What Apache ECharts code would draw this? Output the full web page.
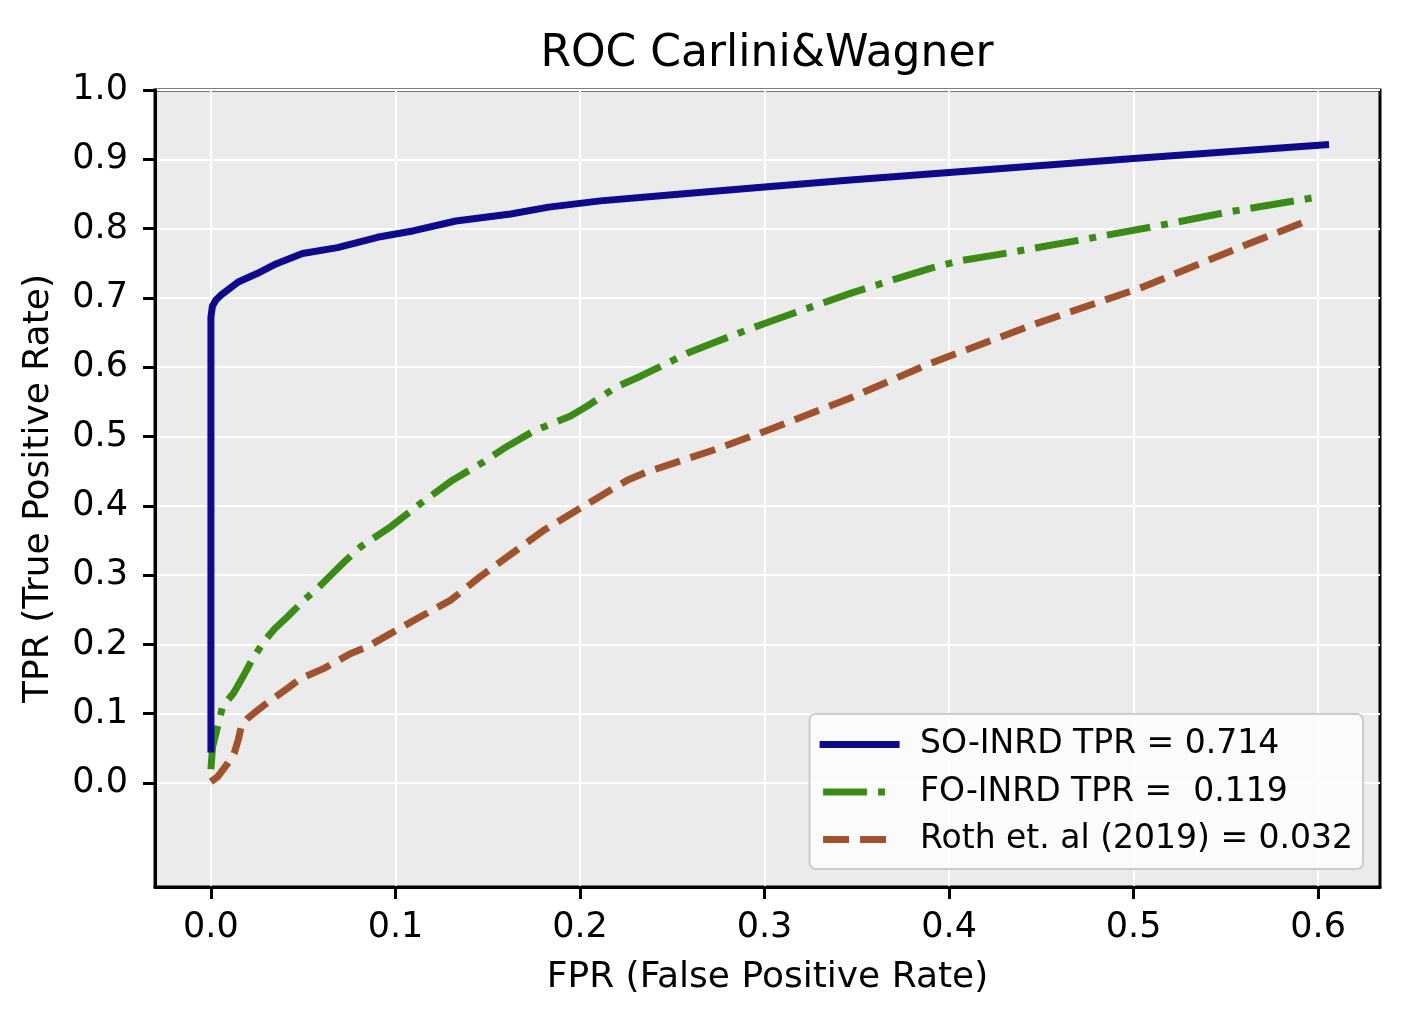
<!DOCTYPE html>
<html>
<head>
<meta charset="utf-8">
<script src="https://cdn.jsdelivr.net/npm/echarts@6/dist/echarts.min.js"></script>
<style>
  html, body { margin: 0; padding: 0; background: #ffffff; }
  #chart { width: 1425px; height: 1015px; }
</style>
</head>
<body>
<div id="chart"></div>
<script>
// ---- data ----
const seriesNames = ['SO-INRD TPR = 0.714', 'FO-INRD TPR =  0.119', 'Roth et. al (2019) = 0.032'];

const soFpr = [0, 0, 0.0008, 0.0027, 0.0054, 0.0148, 0.0253, 0.0352, 0.0496, 0.0686, 0.0902, 0.110, 0.1327, 0.1624, 0.183, 0.211, 0.25, 0.30, 0.3465, 0.40, 0.50, 0.604];
const soTpr = [0.049, 0.672, 0.688, 0.697, 0.704, 0.723, 0.7355, 0.749, 0.764, 0.7725, 0.7875, 0.797, 0.811, 0.821, 0.831, 0.840, 0.849, 0.860, 0.870, 0.881, 0.901, 0.921];

const foFpr = [0, 0.0009, 0.0036, 0.0063, 0.0123, 0.0172, 0.0217, 0.028, 0.0343, 0.0415, 0.0505, 0.0578, 0.065, 0.0722, 0.0812, 0.0975, 0.1137, 0.1309, 0.148, 0.1588, 0.175, 0.1949, 0.204, 0.220, 0.2328, 0.249, 0.258, 0.2707, 0.2906, 0.30, 0.32, 0.3465, 0.3664, 0.3898, 0.406, 0.4304, 0.471, 0.5107, 0.5522, 0.5985];
const foTpr = [0.02, 0.052, 0.081, 0.110, 0.130, 0.1525, 0.175, 0.2016, 0.222, 0.240, 0.264, 0.281, 0.300, 0.319, 0.341, 0.370, 0.4036, 0.437, 0.4637, 0.483, 0.508, 0.5296, 0.544, 0.572, 0.587, 0.608, 0.620, 0.6335, 0.654, 0.663, 0.682, 0.7066, 0.7234, 0.7427, 0.7537, 0.7643, 0.7835, 0.8028, 0.8244, 0.845];

const rothFpr = [0, 0.0036, 0.009, 0.0126, 0.0148, 0.0166, 0.0199, 0.0253, 0.0325, 0.0415, 0.0487, 0.0613, 0.0758, 0.0848, 0.0975, 0.112, 0.130, 0.146, 0.1805, 0.1985, 0.2166, 0.2256, 0.2364, 0.2725, 0.2996, 0.3465, 0.3898, 0.4476, 0.5053, 0.563, 0.594];
const rothTpr = [0.002, 0.009, 0.028, 0.043, 0.062, 0.0837, 0.0933, 0.105, 0.1198, 0.1366, 0.151, 0.1655, 0.187, 0.1967, 0.216, 0.2377, 0.264, 0.298, 0.365, 0.394, 0.4228, 0.437, 0.449, 0.4805, 0.507, 0.5556, 0.6056, 0.6633, 0.716, 0.7788, 0.811];

const xTicks = [0, 0.1, 0.2, 0.3, 0.4, 0.5, 0.6];
const yTicks = [0, 0.1, 0.2, 0.3, 0.4, 0.5, 0.6, 0.7, 0.8, 0.9, 1.0];

const titleText = 'ROC Carlini&Wagner';
const xName = 'FPR (False Positive Rate)';
const yName = 'TPR (True Positive Rate)';

// ---- build ----
const zip = (a, b) => a.map((v, i) => [v, b[i]]);
const FONT = 'DejaVu Sans';

const chart = echarts.init(document.getElementById('chart'), null, { renderer: 'canvas' });

const axisCommon = {
  type: 'value',
  nameLocation: 'middle',
  nameTextStyle: { fontFamily: FONT, fontSize: 36, color: '#000' },
  axisLine: { show: true, onZero: false, lineStyle: { color: '#000', width: 3 } },
  axisTick: { show: true, inside: false, length: 12, lineStyle: { color: '#000', width: 3 } },
  splitLine: { show: true, lineStyle: { color: '#ffffff', width: 2 } },
  axisLabel: { fontFamily: FONT, fontSize: 35, color: '#000', formatter: v => v.toFixed(1) }
};

chart.setOption({
  animation: false,
  backgroundColor: '#ffffff',
  title: {
    text: titleText,
    left: 767,
    textAlign: 'center',
    top: 33,
    padding: 0,
    textStyle: { fontFamily: FONT, fontSize: 44, fontWeight: 'normal', color: '#000' }
  },
  grid: {
    left: 155, right: 45, top: 90, bottom: 128,
    show: true,
    backgroundColor: '#EBEBEB',
    borderColor: '#000',
    borderWidth: 3
  },
  legend: {
    orient: 'vertical',
    right: 62,
    top: 714,
    data: seriesNames,
    itemWidth: 73,
    itemHeight: 20,
    itemGap: 14.5,
    padding: [14, 10, 13, 10],
    backgroundColor: 'rgba(255,255,255,0.8)',
    borderColor: '#CCCCCC',
    borderWidth: 2,
    borderRadius: 6,
    itemStyle: { opacity: 0 },
    lineStyle: { width: 7 },
    textStyle: { fontFamily: FONT, fontSize: 33, lineHeight: 30, color: '#000', padding: [0, 0, 0, 19] }
  },
  xAxis: Object.assign({}, axisCommon, {
    min: -0.0303,
    max: 0.6335,
    name: xName,
    nameGap: 73,
    axisTick: Object.assign({}, axisCommon.axisTick, { customValues: xTicks }),
    axisLabel: Object.assign({}, axisCommon.axisLabel, { customValues: xTicks, margin: 23 })
  }),
  yAxis: Object.assign({}, axisCommon, {
    min: -0.15,
    max: 1.0,
    name: yName,
    nameGap: 98,
    axisTick: Object.assign({}, axisCommon.axisTick, { customValues: yTicks }),
    axisLabel: Object.assign({}, axisCommon.axisLabel, { customValues: yTicks, margin: 27 })
  }),
  series: [
    {
      name: seriesNames[0], type: 'line', data: zip(soFpr, soTpr),
      symbol: 'none', showSymbol: false, z: 4,
      lineStyle: { color: '#0E0A8C', width: 7, type: 'solid', cap: 'square', join: 'round' },
      itemStyle: { color: '#0E0A8C' }
    },
    {
      name: seriesNames[1], type: 'line', data: zip(foFpr, foTpr),
      symbol: 'none', showSymbol: false, z: 3,
      lineStyle: { color: '#3B8C17', width: 7, type: [44, 11, 7, 11], cap: 'butt', join: 'round' },
      itemStyle: { color: '#3B8C17' }
    },
    {
      name: seriesNames[2], type: 'line', data: zip(rothFpr, rothTpr),
      symbol: 'none', showSymbol: false, z: 2,
      lineStyle: { color: '#A0522D', width: 7, type: [26, 11], cap: 'butt', join: 'round' },
      itemStyle: { color: '#A0522D' }
    }
  ]
});
</script>
</body>
</html>
